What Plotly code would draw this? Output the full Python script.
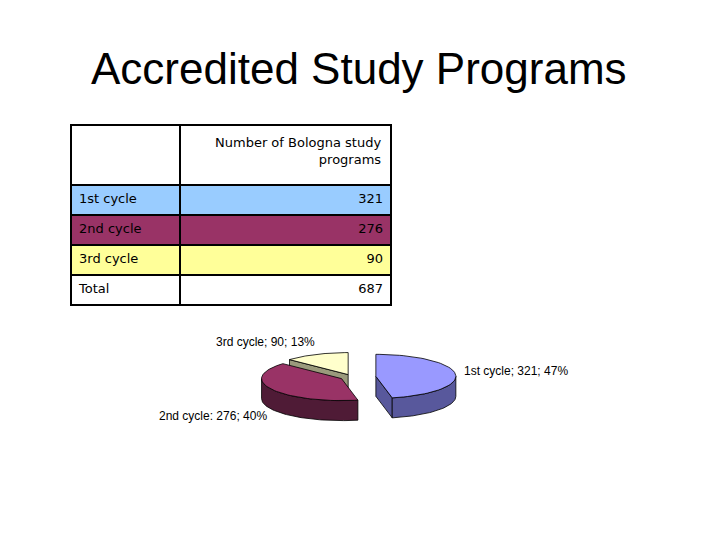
import numpy as np
import plotly.graph_objects as go

# ---- data ----
categories = ["1st cycle", "2nd cycle", "3rd cycle"]
values = [321, 276, 90]
total_label = "Total"
total_value = 687
header_text = "Number of Bologna study<br>programs"
label_separators = [";", ":", ";"]
title_text = "Accredited Study Programs"

# ---- styles ----
top_colors = ["#9999FF", "#993366", "#FFFFCC"]
side_colors = ["#58589C", "#4F1B36", "#9A9A7C"]
table_fills = ["#99CCFF", "#993366", "#FFFF99", "#FFFFFF"]
pulls = [0.30, 0.15, 0.12]
cx, cy, rx, ry, depth = 352, 377, 80, 22, 20
OFF = 8  # page body margin compensation

fig = go.Figure()

total = sum(values)
angles = np.cumsum([0] + [v / total * 360 for v in values])


def arc(a, b, ox, oy, dz=0, n=60):
    t = np.radians(np.linspace(a, b, n))
    return list(ox + rx * np.sin(t)), list(oy - ry * np.cos(t) + dz)


def poly(xs, ys, color):
    fig.add_trace(go.Scatter(x=xs + [xs[0]], y=ys + [ys[0]], mode="lines", fill="toself",
                             fillcolor=color, line=dict(color="black", width=0.8),
                             hoverinfo="skip", showlegend=False))


slices = []
for i, v in enumerate(values):
    a, b = angles[i], angles[i + 1]
    mid = np.radians((a + b) / 2)
    ox = cx + pulls[i] * rx * np.sin(mid)
    oy = cy - pulls[i] * ry * np.cos(mid)
    slices.append((np.cos(mid), i, a, b, ox, oy))

for _, i, a, b, ox, oy in sorted(slices, reverse=True):
    for ang, vis in ((a, np.sin(np.radians(a)) < -1e-6), (b, np.sin(np.radians(b)) > 1e-6)):
        if vis:
            ex, ey = arc(ang, ang, ox, oy, n=1)
            poly([ox, ex[0], ex[0], ox], [oy, ey[0], ey[0] + depth, oy + depth], side_colors[i])
    lo, hi = max(a, 90), min(b, 270)
    if lo < hi:
        tx, ty = arc(lo, hi, ox, oy)
        bx, by = arc(hi, lo, ox, oy, dz=depth)
        poly(tx + bx, ty + by, side_colors[i])
    tx, ty = arc(a, b, ox, oy)
    poly([ox] + tx, [oy] + ty, top_colors[i])

# pie labels
pcts = [round(v / total * 100) for v in values]
labels = [f"{c}{s} {v}; {p}%" for c, s, v, p in zip(categories, label_separators, values, pcts)]
label_pos = [(462, 371, "left"), (269, 416, "right"), (317, 342, "right")]
for lab, (x, y, anc) in zip(labels, label_pos):
    fig.add_annotation(x=x, y=y, text=lab, showarrow=False, xanchor=anc, yanchor="middle",
                       font=dict(family="Liberation Sans", size=12, color="black"))

# title
fig.add_annotation(x=359, y=68, text=title_text, showarrow=False, xanchor="center", yanchor="middle",
                   font=dict(family="Liberation Sans", size=44, color="black"))

# table
fills = table_fills
tfont = dict(family="DejaVu Sans", size=13, color="black")
fig.add_trace(go.Table(
    domain=dict(x=[(71 - OFF) / 720, (391 - OFF) / 720],
                y=[1 - (310 - OFF) / 540, 1 - (125 - OFF) / 540]),
    columnwidth=[109, 211],
    header=dict(values=["", ""], fill_color="white",
                line=dict(color="black", width=2), height=60, font=tfont),
    cells=dict(values=[categories + [total_label], values + [total_value]],
               fill_color=[fills, fills], align=["left", "right"], height=30,
               line=dict(color="black", width=2), font=tfont),
))
fig.add_annotation(x=383, y=151, text=header_text, showarrow=False, xanchor="right",
                   yanchor="middle", align="right", font=tfont)

fig.update_layout(
    width=720, height=540, autosize=False,
    margin=dict(l=0, r=0, t=0, b=0),
    paper_bgcolor="white", plot_bgcolor="white",
    xaxis=dict(range=[OFF, 720 + OFF], visible=False, fixedrange=True),
    yaxis=dict(range=[540 + OFF, OFF], visible=False, fixedrange=True),
    showlegend=False,
)

fig.write_html("out.html")
